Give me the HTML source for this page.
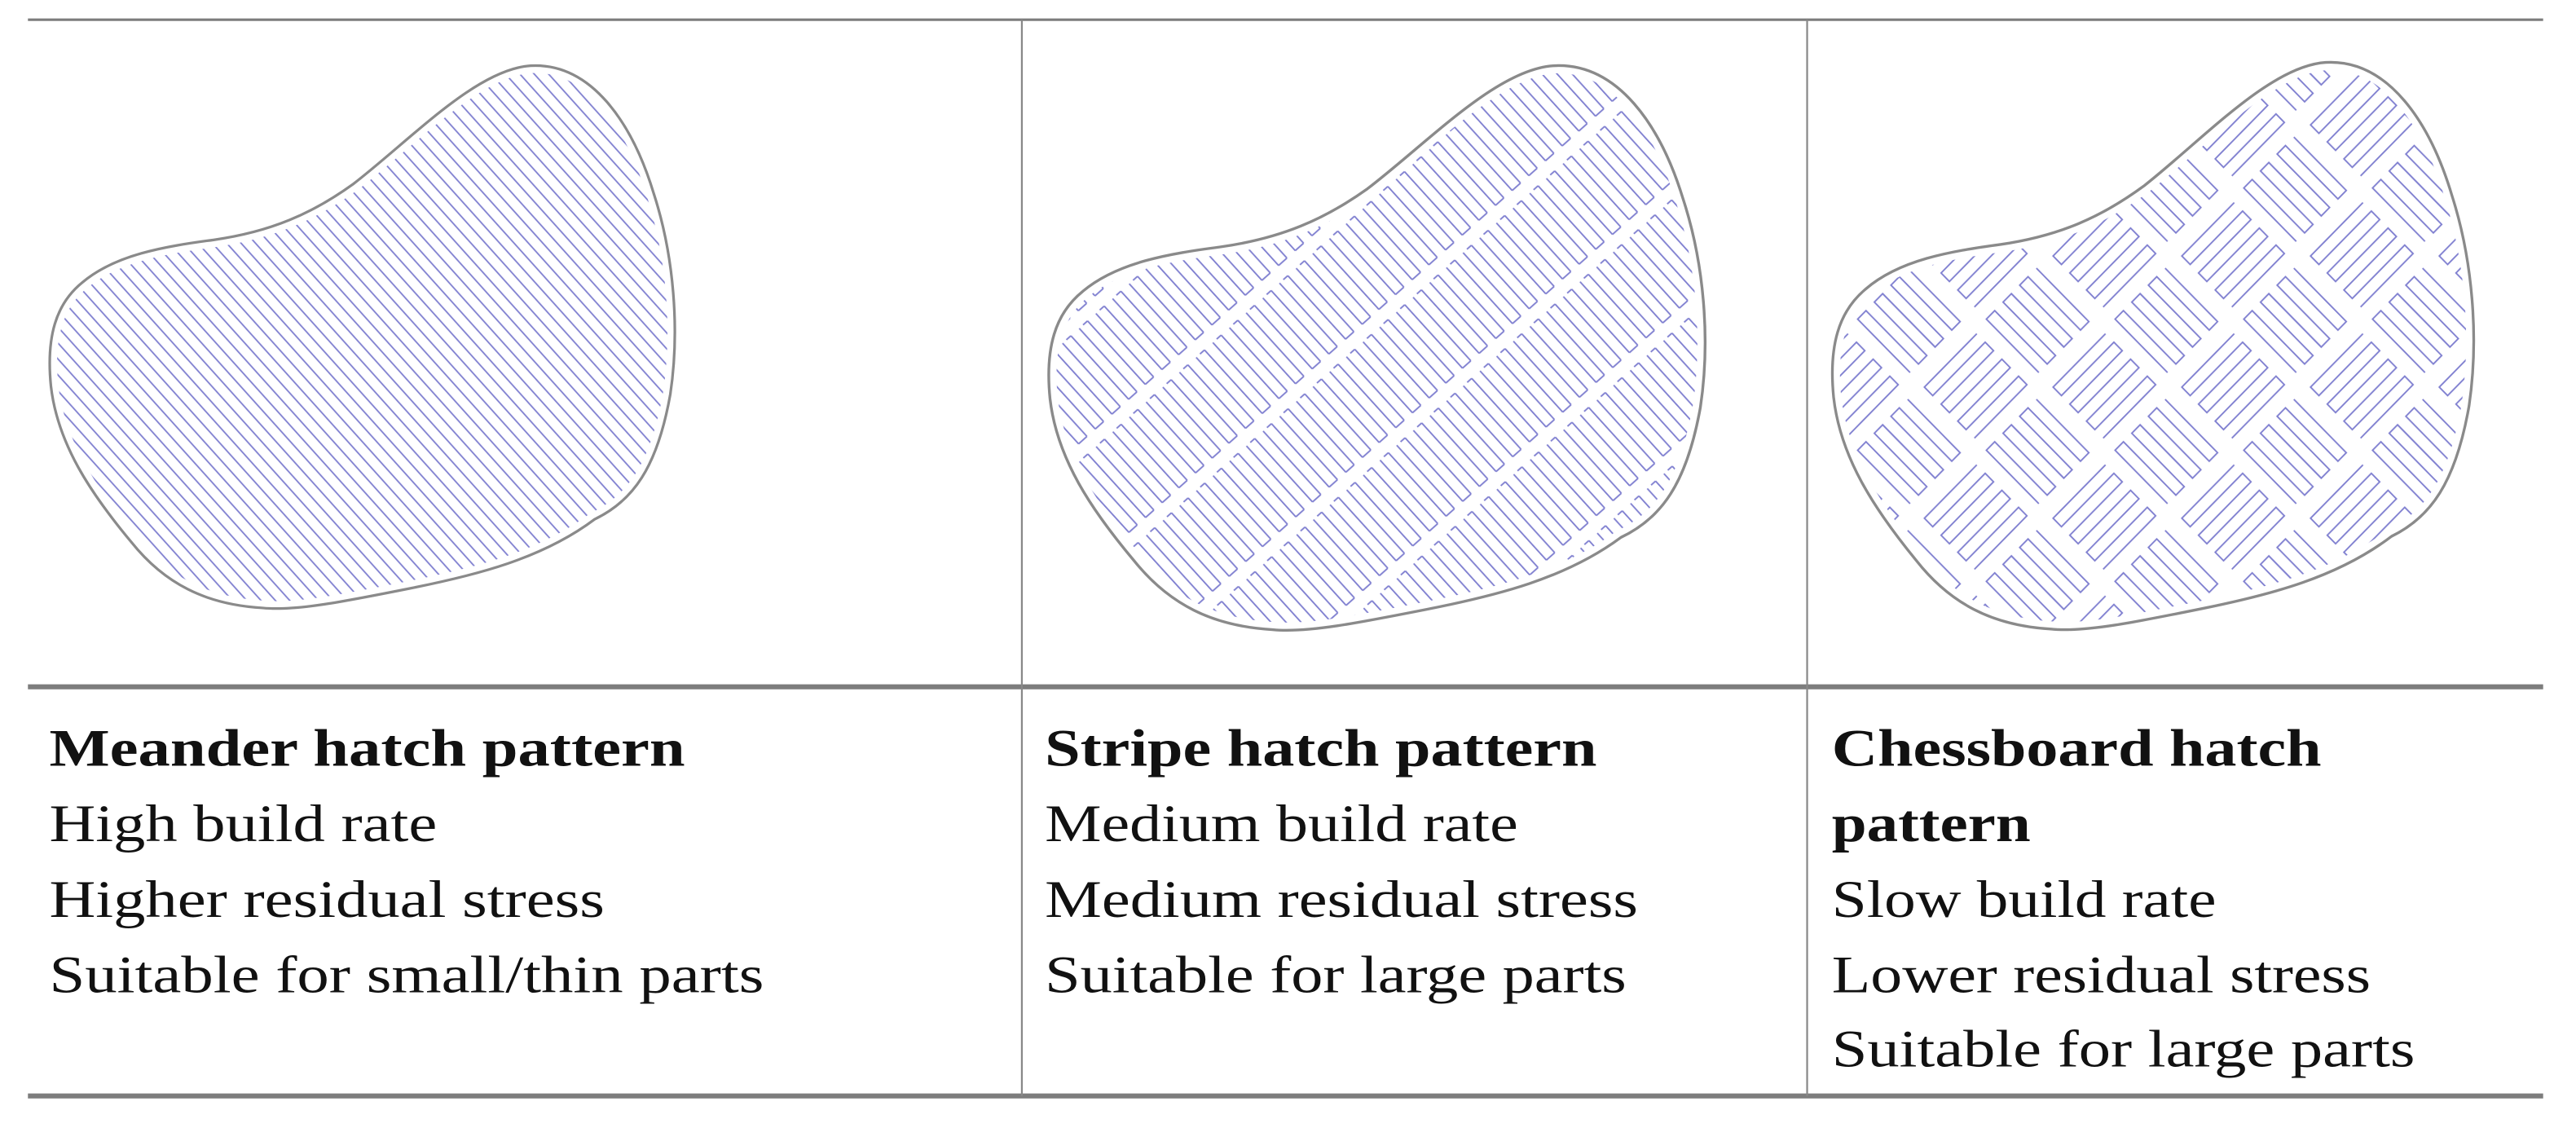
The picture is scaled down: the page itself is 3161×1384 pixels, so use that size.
<!DOCTYPE html>
<html><head><meta charset="utf-8"><style>html,body{margin:0;padding:0;background:#fff}svg{display:block}.t{font-family:"Liberation Serif","Times New Roman",serif;font-size:32px;fill:#111}</style></head>
<body>
<svg width="3161" height="1384" viewBox="0 0 1568 686.5" xmlns="http://www.w3.org/2000/svg" preserveAspectRatio="none">
<defs>
<path id="blob" d="M323,40 C360,38 385,75 398,118 C410,155 414,200 408,240 C400,285 385,305 362,316 C330,340 290,350 250,358 C210,366 180,372 160,370 C125,368 100,355 80,330 C55,300 35,270 31,235 C28,205 34,185 50,172 C70,155 100,150 130,146 C165,141 190,130 215,112 C250,85 290,42 323,40 Z"/>
<clipPath id="cb"><use href="#blob"/></clipPath>
<pattern id="pm" patternUnits="userSpaceOnUse" width="40" height="6.5" patternTransform="rotate(48)">
<line x1="0" y1="3" x2="40" y2="3" stroke="#7f7fd0" stroke-width="0.9"/>
</pattern>
<pattern id="ps" patternUnits="userSpaceOnUse" width="58" height="13" patternTransform="rotate(48)">
<g stroke="#7f7fd0" stroke-width="0.9" fill="none">
<line x1="2" y1="3" x2="52" y2="3"/><line x1="2" y1="9.5" x2="52" y2="9.5"/>
<line x1="52" y1="3" x2="52" y2="9.5"/><line x1="2" y1="9.5" x2="2" y2="16"/>
</g>
</pattern>
<pattern id="pc" patternUnits="userSpaceOnUse" width="108" height="108" patternTransform="rotate(45)">
<g stroke="#7f7fd0" stroke-width="0.9" fill="none">
<path d="M4,6 H48 V13 H4 V20 H48 V27 H4 V34 H48 V41 H4 V48 H48"/>
<path d="M58,60 H102 V67 H58 V74 H102 V81 H58 V88 H102 V95 H58 V102 H102"/>
<path d="M60,4 V48 H67 V4 H74 V48 H81 V4 H88 V48 H95 V4 H102 V48"/>
<path d="M6,58 V102 H13 V58 H20 V102 H27 V58 H34 V102 H41 V58 H48 V102"/>
</g>
</pattern>
</defs>
<g stroke="#7d7d7d" fill="none">
<line x1="17" y1="12" x2="1548" y2="12" stroke-width="1.5"/>
<line x1="17" y1="418" x2="1548" y2="418" stroke-width="3"/>
<line x1="17" y1="667" x2="1548" y2="667" stroke-width="3"/>
<line x1="622" y1="12" x2="622" y2="667" stroke-width="1.1" stroke="#888"/>
<line x1="1100" y1="12" x2="1100" y2="667" stroke-width="1.1" stroke="#888"/>
</g>
<g>
<rect x="0" y="0" width="500" height="420" fill="url(#pm)" clip-path="url(#cb)"/>
<use href="#blob" fill="none" stroke="#fff" stroke-width="9"/>
<use href="#blob" fill="none" stroke="#8a8a8a" stroke-width="1.6"/>
</g>
<g transform="translate(606.6,-1.6) scale(1.05,1.04)">
<rect x="0" y="0" width="500" height="420" fill="url(#ps)" clip-path="url(#cb)"/>
<use href="#blob" fill="none" stroke="#fff" stroke-width="9"/>
<use href="#blob" fill="none" stroke="#8a8a8a" stroke-width="1.6"/>
</g>
<g transform="translate(1084.3,-3.8) scale(1.026,1.045)">
<rect x="0" y="0" width="500" height="420" fill="url(#pc)" clip-path="url(#cb)"/>
<use href="#blob" fill="none" stroke="#fff" stroke-width="9"/>
<use href="#blob" fill="none" stroke="#8a8a8a" stroke-width="1.6"/>
</g>
<g class="t">
<text x="30" y="466" font-weight="bold" textLength="387" lengthAdjust="spacingAndGlyphs">Meander hatch pattern</text>
<text x="30" y="512" textLength="236" lengthAdjust="spacingAndGlyphs">High build rate</text>
<text x="30" y="558" textLength="338" lengthAdjust="spacingAndGlyphs">Higher residual stress</text>
<text x="30" y="604" textLength="435" lengthAdjust="spacingAndGlyphs">Suitable for small/thin parts</text>
<text x="636" y="466" font-weight="bold" textLength="336" lengthAdjust="spacingAndGlyphs">Stripe hatch pattern</text>
<text x="636" y="512" textLength="288" lengthAdjust="spacingAndGlyphs">Medium build rate</text>
<text x="636" y="558" textLength="361" lengthAdjust="spacingAndGlyphs">Medium residual stress</text>
<text x="636" y="604" textLength="354" lengthAdjust="spacingAndGlyphs">Suitable for large parts</text>
<text x="1115" y="466" font-weight="bold" textLength="298" lengthAdjust="spacingAndGlyphs">Chessboard hatch</text>
<text x="1115" y="512" font-weight="bold" textLength="121" lengthAdjust="spacingAndGlyphs">pattern</text>
<text x="1115" y="558" textLength="234" lengthAdjust="spacingAndGlyphs">Slow build rate</text>
<text x="1115" y="604" textLength="328" lengthAdjust="spacingAndGlyphs">Lower residual stress</text>
<text x="1115" y="649" textLength="355" lengthAdjust="spacingAndGlyphs">Suitable for large parts</text>
</g>
</svg>
</body></html>
